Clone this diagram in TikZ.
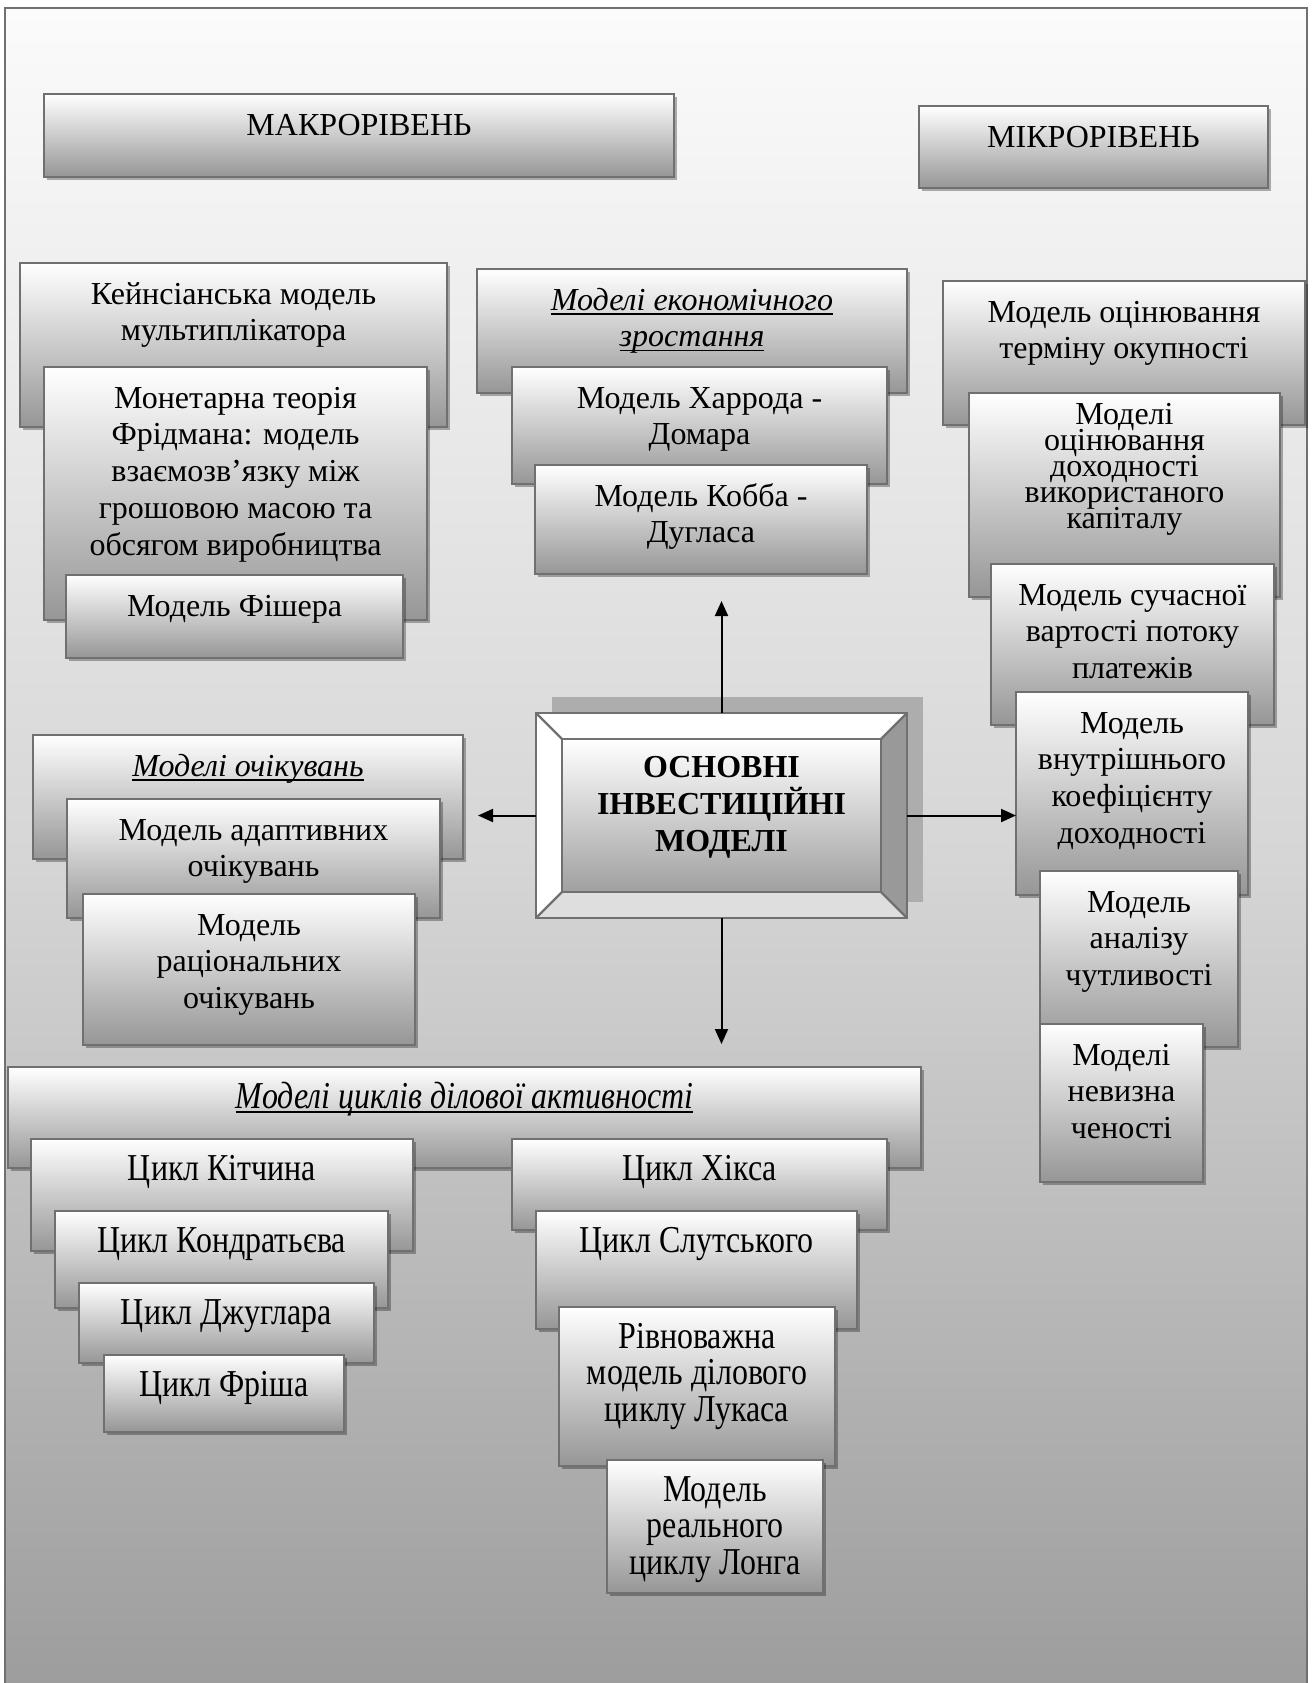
\documentclass[tikz,border=0pt]{standalone}
\usepackage{fontspec}
\setmainfont{Liberation Serif}
\newfontfamily\narrowserif{Liberation Serif}[FakeStretch=0.84]
\usetikzlibrary{arrows.meta,shadows}

\definecolor{edgegray}{RGB}{112,112,112}
\definecolor{panelbot}{RGB}{150,150,150}
\definecolor{bgtop}{RGB}{251,251,251}
\definecolor{bgmid}{RGB}{214,214,214}
\definecolor{bgbot}{RGB}{156,156,156}
\definecolor{bevelright}{RGB}{153,153,153}
\definecolor{bevelbottom}{RGB}{222,222,222}
\definecolor{coreshade}{RGB}{173,173,173}
\definecolor{facebot}{RGB}{160,160,160}

% underline at a fixed depth below the baseline
\newcommand\ulin[1]{\setbox0=\hbox{#1}\rlap{\rule[-2.3pt]{\wd0}{0.75pt}}\box0}
% closely packed lines with a fixed baseline distance
\newcommand\tightlines{\fontsize{16}{13}\selectfont\lineskiplimit=-100pt\relax\lineskip=0pt\relax}

\tikzset{
  panel/.style={rectangle, draw=edgegray, line width=1.1pt, top color=white,
    bottom color=panelbot, inner sep=0pt, outer sep=0pt,
    drop shadow={shadow xshift=1.4pt, shadow yshift=-1.4pt, opacity=.3, fill=black}},
  boxtext/.style={inner sep=0pt, outer sep=0pt, align=center,
    font=\fontsize{16}{18.4}\selectfont},
  itxt/.style={font=\fontsize{16}{18.4}\selectfont\itshape},
  cyc/.style={font=\narrowserif\fontsize{19}{18.4}\selectfont},
  cycit/.style={font=\narrowserif\itshape\fontsize{19}{18.4}\selectfont},
  tight/.style={font={\tightlines}, yshift=5pt},
  arr/.style={-{Triangle[length=7.5pt,width=6.5pt]}, line width=1pt},
}

% shaded panel (name, x1, y1, x2, y2) with its text set from the top
\newcommand\panelbox[7][]{%
  \node[panel, minimum width={(#5-#3)*0.5pt}, minimum height={(#6-#4)*0.5pt},
        anchor=north west] (#2) at (#3,#4) {};
  \node[boxtext, anchor=north, #1] (#2-t) at ({(#3+#5)/2},{#4+11}) {\rule{0pt}{15pt}#7};
}

\begin{document}
\begin{tikzpicture}[x=0.5pt,y=-0.5pt]
\useasboundingbox (0,0) rectangle (1313,1683);

% page frame
\draw[draw=edgegray, line width=1.1pt, top color=bgtop, bottom color=bgbot, middle color=bgmid]
  (5,8) rectangle (1307,1700);

% levels
\panelbox{macro}{44}{94}{674}{177}{МАКРОРІВЕНЬ}
\panelbox{micro}{919}{106}{1268}{188}{МІКРОРІВЕНЬ}

% macro-level models
\panelbox{keyn}{20}{263}{447}{427}{Кейнсіанська модель\\мультиплікатора}
\panelbox{monet}{44}{367}{427}{620}{Монетарна теорія\\Фрідмана: модель\\взаємозв’язку між\\грошовою масою та\\обсягом виробництва}
\panelbox{fisher}{66}{575}{403}{658}{Модель Фішера}

% growth models
\panelbox[itxt]{growth}{477}{269}{907}{393}{\ulin{Моделі економічного}\\\ulin{зростання}}
\panelbox{harrod}{512}{367}{887}{484}{Модель Харрода -\\Домара}
\panelbox{cobb}{535}{465}{867}{574}{Модель Кобба -\\Дугласа}

% micro-level models
\panelbox{mA}{943}{281}{1305}{425}{Модель оцінювання\\терміну окупності}
\panelbox[tight]{mB}{969}{393}{1280}{597}{Моделі\\оцінювання\\доходності\\використаного\\капіталу}
\panelbox{mC}{991}{564}{1274}{725}{Модель сучасної\\вартості потоку\\платежів}
\panelbox{mD}{1016}{692}{1248}{895}{Модель\\внутрішнього\\коефіцієнту\\доходності}
\panelbox{mE}{1040}{871}{1238}{1047}{Модель\\аналізу\\чутливості}
\panelbox{mF}{1040}{1024}{1203}{1182}{Моделі\\невизна\\ченості}

% expectation models
\panelbox[itxt]{expect}{33}{735}{463}{859}{\ulin{Моделі очікувань}}
\panelbox{adapt}{67}{799}{440}{918}{Модель адаптивних\\очікувань}
\panelbox{ration}{83}{894}{415}{1045}{Модель\\раціональних\\очікувань}

% business cycle models
\panelbox[cycit]{cycles}{8}{1067}{921}{1168}{\ulin{Моделі циклів ділової активності}}
\panelbox[cyc]{kitch}{31}{1139}{413}{1251}{Цикл Кітчина}
\panelbox[cyc]{kondr}{55}{1211}{388}{1308}{Цикл Кондратьєва}
\panelbox[cyc]{jugl}{79}{1283}{374}{1363}{Цикл Джуглара}
\panelbox[cyc]{frish}{104}{1355}{344}{1432}{Цикл Фріша}
\panelbox[cyc]{hicks}{512}{1139}{887}{1230}{Цикл Хікса}
\panelbox[cyc]{slutsk}{536}{1211}{857}{1329}{Цикл Слутського}
\panelbox[cyc]{lucas}{559}{1307}{835}{1466}{Рівноважна\\модель ділового\\циклу Лукаса}
\panelbox[cyc]{longc}{607}{1460}{823}{1593}{Модель\\реального\\циклу Лонга}

% central bevelled box
\node[rectangle, inner sep=0pt, outer sep=0pt, minimum width={371*0.5pt},
      minimum height={205*0.5pt}, anchor=north west] (core) at (536,713) {};
\fill[coreshade] ([xshift=8pt,yshift=8pt]core.south west) rectangle ([xshift=8pt,yshift=8pt]core.north east);
\coordinate (ia) at ([xshift=13pt,yshift=-13pt]core.north west);
\coordinate (ib) at ([xshift=-13pt,yshift=-13pt]core.north east);
\coordinate (ic) at ([xshift=-13pt,yshift=13pt]core.south east);
\coordinate (id) at ([xshift=13pt,yshift=13pt]core.south west);
\fill[white] (core.north west) -- (core.north east) -- (ib) -- (ia) -- cycle;
\fill[white] (core.north west) -- (ia) -- (id) -- (core.south west) -- cycle;
\fill[bevelright] (core.north east) -- (core.south east) -- (ic) -- (ib) -- cycle;
\fill[bevelbottom] (core.south west) -- (id) -- (ic) -- (core.south east) -- cycle;
\shade[top color=white, bottom color=facebot] (ia) rectangle (ic);
\draw[edgegray, line width=1.1pt] (core.north west) rectangle (core.south east);
\draw[edgegray, line width=1.1pt] (ia) rectangle (ic);
\draw[edgegray, line width=1.1pt] (core.north west) -- (ia) (core.north east) -- (ib)
  (core.south east) -- (ic) (core.south west) -- (id);
\node[inner sep=0pt, outer sep=0pt, align=center, anchor=north,
      font=\bfseries\fontsize{16}{18.5}\selectfont] (core-t) at ([yshift=-17pt]core.north)
  {\rule{0pt}{15pt}ОСНОВНІ\\ІНВЕСТИЦІЙНІ\\МОДЕЛІ};

% connectors
\coordinate (upTip) at (721.5,601);
\coordinate (leftTip) at (478,815.5);
\coordinate (downTip) at (721.5,1044);
\draw[arr] (core.north) -- (upTip);
\draw[arr] (core.west) -- (leftTip);
\draw[arr] (core.east) -- (mD.west |- core.east);
\draw[arr] (core.south) -- (downTip);
\end{tikzpicture}
\end{document}
